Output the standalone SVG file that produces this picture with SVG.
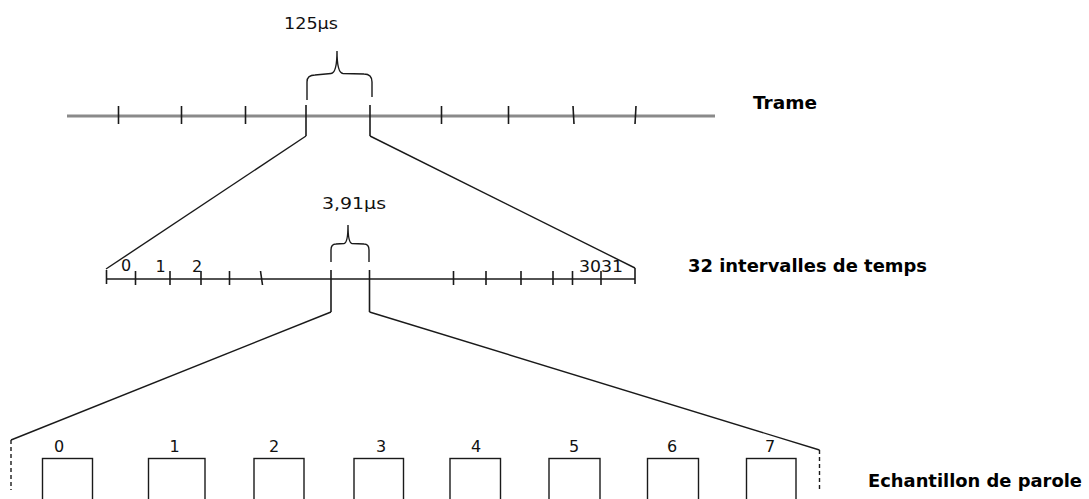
<svg xmlns="http://www.w3.org/2000/svg" width="1089" height="499" viewBox="0 0 1089 499">
  <style>
    .axis { stroke: #8a8a8a; stroke-width: 3; fill: none; }
    .ln { stroke: #1a1a1a; stroke-width: 1.4; fill: none; }
    .tick { stroke: #1a1a1a; stroke-width: 1.6; }
    .dash { stroke: #1a1a1a; stroke-width: 1.4; stroke-dasharray: 4 3; fill: none; }
    .box { stroke: #1a1a1a; stroke-width: 1.4; fill: #ffffff; }
    .lbl { font-family: "DejaVu Sans", Verdana, sans-serif; font-size: 16px; fill: #111; }
    .title { font-family: "DejaVu Sans", Verdana, sans-serif; font-size: 17.5px; font-weight: bold; fill: #000; }
  </style>
  <rect width="1089" height="499" fill="#ffffff"/>

  <!-- Frame timeline -->
  <g id="trame">
    <line class="axis" x1="67" y1="116" x2="715" y2="116"/>
    <g class="tick">
      <line x1="118.5" y1="106" x2="118.5" y2="124"/>
      <line x1="181.5" y1="106" x2="181.5" y2="124"/>
      <line x1="245.5" y1="106" x2="245.5" y2="124"/>
      <line x1="306" y1="105" x2="306" y2="136"/>
      <line x1="370" y1="105" x2="370" y2="136"/>
      <line x1="441.5" y1="106" x2="441.5" y2="124"/>
      <line x1="508.5" y1="106" x2="508.5" y2="124"/>
      <line x1="573" y1="106" x2="574" y2="124"/>
      <line x1="636" y1="106" x2="635" y2="124"/>
    </g>
    <path class="ln" d="M307,100 L307,82 Q307,75 315,75 L331,73.5 Q337,73 337,51 Q337,73 343,73.5 L364,74 Q372,74 372,82 L372,97"/>
    <text class="lbl" x="284" y="29" textLength="54" lengthAdjust="spacingAndGlyphs">125µs</text>
    <text class="title" x="753" y="109" textLength="64" lengthAdjust="spacingAndGlyphs">Trame</text>
  </g>

  <!-- 32 time slots -->
  <g id="intervalles">
    <line class="ln" x1="106.5" y1="279" x2="635" y2="279"/>
    <g class="tick">
      <line x1="106.5" y1="270" x2="106.5" y2="284"/>
      <line x1="135.5" y1="271" x2="135.5" y2="285"/>
      <line x1="170" y1="271" x2="170" y2="285"/>
      <line x1="201" y1="271" x2="201" y2="285"/>
      <line x1="229.5" y1="271" x2="229.5" y2="285"/>
      <line x1="260.5" y1="271" x2="262.5" y2="285"/>
      <line x1="331" y1="270" x2="331" y2="312"/>
      <line x1="369.5" y1="270" x2="369.5" y2="312"/>
      <line x1="453.5" y1="271" x2="453.5" y2="285"/>
      <line x1="486" y1="271" x2="486" y2="285"/>
      <line x1="521" y1="271" x2="521" y2="285"/>
      <line x1="553" y1="271" x2="553" y2="285"/>
      <line x1="572.5" y1="271" x2="572.5" y2="285"/>
      <line x1="601" y1="271" x2="601" y2="285"/>
      <line x1="635" y1="268" x2="635" y2="284"/>
    </g>
    <path class="ln" d="M331,262 L331,250 Q331,244 336,244 L344,243.5 Q348,243 348,225 Q348,243 352,243.5 L364,244 Q369,244 369,250 L369,262"/>
    <text class="lbl" x="354" y="209" text-anchor="middle" textLength="64" lengthAdjust="spacingAndGlyphs">3,91µs</text>
    <text class="lbl" x="126" y="271" text-anchor="middle">0</text>
    <text class="lbl" x="160.5" y="271.5" text-anchor="middle">1</text>
    <text class="lbl" x="197" y="271.5" text-anchor="middle">2</text>
    <text class="lbl" x="579" y="272" textLength="44" lengthAdjust="spacingAndGlyphs">3031</text>
    <text class="title" x="688" y="272" textLength="239" lengthAdjust="spacingAndGlyphs">32 intervalles de temps</text>
  </g>

  <!-- Speech samples -->
  <g id="echantillons">
    <line class="dash" x1="11" y1="440" x2="11" y2="490"/>
    <line class="dash" x1="819.5" y1="450" x2="819.5" y2="490"/>
    <rect class="box" x="42.5" y="458.5" width="50" height="50"/>
    <rect class="box" x="148.5" y="458.5" width="56.5" height="50"/>
    <rect class="box" x="254" y="458.5" width="50" height="50"/>
    <rect class="box" x="354" y="458.5" width="49.5" height="50"/>
    <rect class="box" x="450" y="458.5" width="50.5" height="50"/>
    <rect class="box" x="549" y="458.5" width="51" height="50"/>
    <rect class="box" x="647.5" y="458.5" width="51" height="50"/>
    <rect class="box" x="746.5" y="458.5" width="49.5" height="50"/>
    <text class="lbl" x="59" y="452" text-anchor="middle">0</text>
    <text class="lbl" x="174.5" y="452" text-anchor="middle">1</text>
    <text class="lbl" x="274" y="452" text-anchor="middle">2</text>
    <text class="lbl" x="381" y="452" text-anchor="middle">3</text>
    <text class="lbl" x="476" y="452" text-anchor="middle">4</text>
    <text class="lbl" x="574" y="452" text-anchor="middle">5</text>
    <text class="lbl" x="672" y="452" text-anchor="middle">6</text>
    <text class="lbl" x="770" y="452" text-anchor="middle">7</text>
    <text class="title" x="868" y="487" textLength="214" lengthAdjust="spacingAndGlyphs">Echantillon de parole</text>
  </g>

  <!-- Zoom connectors -->
  <g id="connecteurs" class="ln">
    <line x1="306" y1="136" x2="106" y2="269"/>
    <line x1="370" y1="136" x2="635" y2="268"/>
    <line x1="331" y1="312" x2="11" y2="440"/>
    <line x1="369.5" y1="312" x2="819.5" y2="450"/>
  </g>
</svg>
